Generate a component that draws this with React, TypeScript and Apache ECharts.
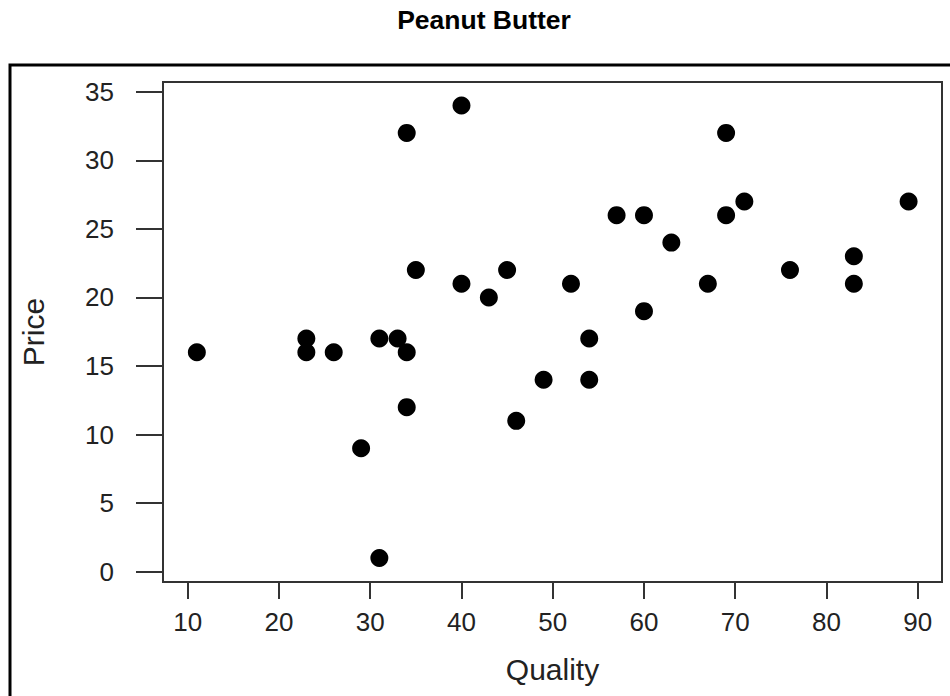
import React, { useEffect, useRef } from "react";
import * as echarts from "echarts";

const quality = [11, 23, 23, 26, 29, 31, 31, 33, 34, 34, 34, 35, 40, 40, 43, 45, 46, 49, 52, 54, 54, 57, 60, 60, 63, 67, 69, 69, 71, 76, 83, 83, 89];
const price = [16, 17, 16, 16, 9, 1, 17, 17, 16, 12, 32, 22, 34, 21, 20, 22, 11, 14, 21, 17, 14, 26, 26, 19, 24, 21, 32, 26, 27, 22, 23, 21, 27];
const xTicks = [10, 20, 30, 40, 50, 60, 70, 80, 90];
const yTicks = [0, 5, 10, 15, 20, 25, 30, 35];
const titleText = "Peanut Butter";
const xName = "Quality";
const yName = "Price";

const FONT = "'Liberation Sans', Arial, sans-serif";

export default function App() {
  const ref = useRef<HTMLDivElement>(null);
  useEffect(() => {
    if (!ref.current) return;
    const chart = echarts.init(ref.current, undefined, { renderer: "svg" });
    const points = quality.map((q, i) => [q, price[i]]);
    chart.setOption({
      animation: false,
      backgroundColor: "#fff",
      graphic: [
        {
          type: "rect",
          shape: { x: 10, y: 65, width: 1000, height: 700 },
          style: { fill: "none", stroke: "#000", lineWidth: 3 },
          z: -1,
        },
        {
          type: "text",
          x: 484,
          y: 20,
          style: {
            text: titleText,
            font: `bold 26.5px ${FONT}`,
            fill: "#000",
            textAlign: "center",
            textVerticalAlign: "middle",
          },
        },
      ],
      grid: {
        left: 163,
        top: 82,
        width: 779,
        height: 500,
        show: true,
        borderColor: "#333",
        borderWidth: 2,
        backgroundColor: "transparent",
      },
      xAxis: {
        type: "value",
        min: 7.29,
        max: 92.66,
        name: xName,
        nameLocation: "middle",
        nameGap: 72,
        nameTextStyle: { fontSize: 30, fontFamily: FONT, color: "#222" },
        axisLine: { show: false, onZero: false },
        splitLine: { show: false },
        axisTick: {
          show: true,
          length: 17,
          customValues: xTicks,
          lineStyle: { color: "#333", width: 2 },
        },
        axisLabel: {
          customValues: xTicks,
          margin: 27,
          fontSize: 26,
          fontFamily: FONT,
          color: "#222",
        },
      },
      yAxis: {
        type: "value",
        min: -0.751,
        max: 35.71,
        name: yName,
        nameLocation: "middle",
        nameGap: 115,
        nameTextStyle: { fontSize: 30, fontFamily: FONT, color: "#222" },
        axisLine: { show: false, onZero: false },
        splitLine: { show: false },
        axisTick: {
          show: true,
          length: 27,
          customValues: yTicks,
          lineStyle: { color: "#333", width: 2 },
        },
        axisLabel: {
          customValues: yTicks,
          margin: 49,
          fontSize: 26,
          fontFamily: FONT,
          color: "#222",
          padding: [0, 0, 7, 0],
        },
      },
      series: [
        {
          type: "scatter",
          data: points,
          symbol: "circle",
          symbolSize: 18,
          itemStyle: { color: "#000", opacity: 1 },
        },
      ],
    });
    return () => chart.dispose();
  }, []);
  return (
    <div
      ref={ref}
      style={{ position: "absolute", left: 0, top: 0, width: 950, height: 696 }}
    />
  );
}
